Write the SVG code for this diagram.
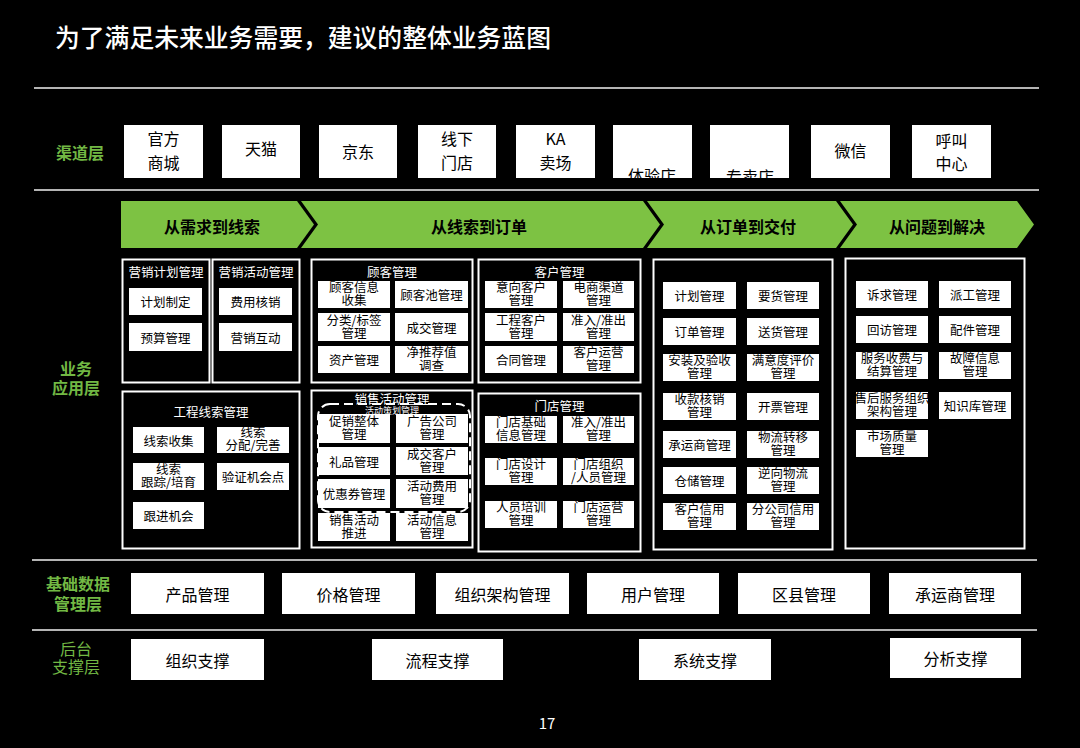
<svg xmlns="http://www.w3.org/2000/svg" width="1080" height="748" viewBox="0 0 1080 748">
<style>
text{font-family:"Noto Sans CJK SC","Noto Sans",sans-serif;text-anchor:middle;dominant-baseline:central}
tspan{dominant-baseline:central}
.bg{fill:#000}
.sep{stroke:#b4b4b4;stroke-width:2}
.ch{fill:#fff}
.t16{font-size:16px;fill:#000}
.t13{font-size:12.5px;fill:#000}
.pn{fill:none;stroke:#fff;stroke-width:2}
.bx{fill:#fff}
.pt{font-size:12.5px;fill:#fff}
.lbl{font-size:16px;font-weight:bold;fill:#72b844}
.arr{fill:#7dc243}
.at{font-size:16px;font-weight:bold;fill:#000}
</style>
<rect class="bg" x="0" y="0" width="1080" height="748"/>
<g id="title"><text x="55" y="36" style="font-size:24.8px;font-weight:500;fill:#fff;text-anchor:start">为了满足未来业务需要，建议的整体业务蓝图</text></g>
<g id="separators">
<line class="sep" x1="34" y1="88" x2="1039" y2="88"/>
<line class="sep" x1="34" y1="190" x2="1039" y2="190"/>
<line class="sep" x1="32" y1="560" x2="1037" y2="560"/>
<line class="sep" x1="32" y1="630" x2="1037" y2="630"/>
</g>
<g id="layer-labels">
<text class="lbl" x="80" y="152">渠道层</text>
<text class="lbl" x="76"><tspan x="76" y="368">业务</tspan><tspan x="76" y="387">应用层</tspan></text>
<text class="lbl" x="78"><tspan x="78" y="583">基础数据</tspan><tspan x="78" y="603">管理层</tspan></text>
<text class="lbl" x="76" style="font-weight:normal"><tspan x="76" y="648">后台</tspan><tspan x="76" y="666">支撑层</tspan></text>
</g>
<g id="channels">
<rect class="ch" x="124" y="125" width="79" height="53"/><text class="t16"><tspan x="163.5" y="138">官方</tspan><tspan x="163.5" y="162">商城</tspan></text>
<rect class="ch" x="222" y="125" width="78" height="53"/><text class="t16" x="261" y="148">天猫</text>
<rect class="ch" x="319" y="125" width="78" height="53"/><text class="t16" x="358" y="151">京东</text>
<rect class="ch" x="418" y="125" width="78" height="53"/><text class="t16"><tspan x="457" y="138">线下</tspan><tspan x="457" y="162">门店</tspan></text>
<rect class="ch" x="516" y="125" width="79" height="53"/><text class="t16"><tspan x="555.5" y="138">KA</tspan><tspan x="555.5" y="162">卖场</tspan></text>
<rect class="ch" x="613" y="125" width="79" height="53"/><text class="t16" x="652" y="175">体验店</text>
<rect class="ch" x="710" y="125" width="79" height="53"/><text class="t16" x="750" y="176">专卖店</text>
<rect class="ch" x="811" y="125" width="79" height="53"/><text class="t16" x="850.5" y="150">微信</text>
<rect class="ch" x="912" y="125" width="79" height="53"/><text class="t16"><tspan x="951.5" y="140">呼叫</tspan><tspan x="951.5" y="163">中心</tspan></text>
</g>
<g id="stages">
<path class="arr" d="M121,201 L297,201 L314,224.5 L297,248 L121,248 Z"/>
<path class="arr" d="M301,201 L643,201 L660,224.5 L643,248 L301,248 L318,224.5 Z"/>
<path class="arr" d="M647,201 L836,201 L853,224.5 L836,248 L647,248 L664,224.5 Z"/>
<path class="arr" d="M840,201 L1017,201 L1034,224.5 L1017,248 L840,248 L857,224.5 Z"/>
<text class="at" x="212" y="226">从需求到线索</text>
<text class="at" x="479" y="226">从线索到订单</text>
<text class="at" x="748" y="226">从订单到交付</text>
<text class="at" x="937" y="226">从问题到解决</text>
</g>
<g id="panel-plan">
<rect class="pn" x="122.5" y="259.5" width="87" height="123"/>
<text class="pt" x="166" y="271">营销计划管理</text>
<rect class="bx" x="129" y="288" width="73" height="27"/><text class="t13" x="165.5" y="301.5">计划制定</text>
<rect class="bx" x="129" y="323" width="73" height="28"/><text class="t13" x="165.5" y="337">预算管理</text>
</g>
<g id="panel-activity">
<rect class="pn" x="212.5" y="259.5" width="87" height="123"/>
<text class="pt" x="256" y="271">营销活动管理</text>
<rect class="bx" x="219" y="288" width="73" height="27"/><text class="t13" x="255.5" y="301.5">费用核销</text>
<rect class="bx" x="219" y="323" width="73" height="28"/><text class="t13" x="255.5" y="337">营销互动</text>
</g>
<g id="panel-leads">
<rect class="pn" x="122.5" y="391.5" width="177" height="157"/>
<text class="pt" x="211" y="411">工程线索管理</text>
<rect class="bx" x="133" y="427" width="71" height="26"/><text class="t13" x="168.5" y="440">线索收集</text>
<rect class="bx" x="217" y="427" width="72" height="26"/><text class="t13"><tspan x="253" y="431">线索</tspan><tspan x="253" y="444">分配/完善</tspan></text>
<rect class="bx" x="133" y="463" width="71" height="27"/><text class="t13"><tspan x="168.5" y="467.5">线索</tspan><tspan x="168.5" y="480.5">跟踪/培育</tspan></text>
<rect class="bx" x="217" y="463" width="72" height="27"/><text class="t13" x="253" y="476.5">验证机会点</text>
<rect class="bx" x="133" y="502" width="71" height="27"/><text class="t13" x="168.5" y="515.5">跟进机会</text>
</g>
<g id="panel-consumer">
<rect class="pn" x="311.5" y="259.5" width="161" height="123"/>
<text class="pt" x="392" y="271">顾客管理</text>
<rect class="bx" x="318" y="281" width="72" height="27"/><text class="t13"><tspan x="354" y="286">顾客信息</tspan><tspan x="354" y="299">收集</tspan></text>
<rect class="bx" x="395" y="281" width="73" height="27"/><text class="t13" x="431.5" y="294.5">顾客池管理</text>
<rect class="bx" x="318" y="313" width="72" height="28"/><text class="t13"><tspan x="354" y="318.5">分类/标签</tspan><tspan x="354" y="331.5">管理</tspan></text>
<rect class="bx" x="395" y="313" width="73" height="28"/><text class="t13" x="431.5" y="327">成交管理</text>
<rect class="bx" x="318" y="346" width="72" height="27"/><text class="t13" x="354" y="359.5">资产管理</text>
<rect class="bx" x="395" y="346" width="73" height="27"/><text class="t13"><tspan x="431.5" y="351">净推荐值</tspan><tspan x="431.5" y="364">调查</tspan></text>
</g>
<g id="panel-customer">
<rect class="pn" x="478.5" y="259.5" width="162" height="123"/>
<text class="pt" x="559.5" y="271">客户管理</text>
<rect class="bx" x="485" y="281" width="72" height="27"/><text class="t13"><tspan x="521" y="286">意向客户</tspan><tspan x="521" y="299">管理</tspan></text>
<rect class="bx" x="563" y="281" width="71" height="27"/><text class="t13"><tspan x="598.5" y="286">电商渠道</tspan><tspan x="598.5" y="299">管理</tspan></text>
<rect class="bx" x="485" y="313" width="72" height="28"/><text class="t13"><tspan x="521" y="318.5">工程客户</tspan><tspan x="521" y="331.5">管理</tspan></text>
<rect class="bx" x="563" y="313" width="71" height="28"/><text class="t13"><tspan x="598.5" y="318.5">准入/准出</tspan><tspan x="598.5" y="331.5">管理</tspan></text>
<rect class="bx" x="485" y="346" width="72" height="27"/><text class="t13" x="521" y="359.5">合同管理</text>
<rect class="bx" x="563" y="346" width="71" height="27"/><text class="t13"><tspan x="598.5" y="351">客户运营</tspan><tspan x="598.5" y="364">管理</tspan></text>
</g>
<g id="panel-sales">
<rect class="pn" x="311.5" y="390.5" width="161" height="157"/>
<rect class="bx" x="318" y="414" width="72" height="29"/><text class="t13"><tspan x="354" y="420">促销整体</tspan><tspan x="354" y="433">管理</tspan></text>
<rect class="bx" x="396" y="414" width="72" height="29"/><text class="t13"><tspan x="432" y="420">广告公司</tspan><tspan x="432" y="433">管理</tspan></text>
<rect class="bx" x="318" y="447" width="72" height="28"/><text class="t13" x="354" y="461">礼品管理</text>
<rect class="bx" x="396" y="447" width="72" height="28"/><text class="t13"><tspan x="432" y="452.5">成交客户</tspan><tspan x="432" y="465.5">管理</tspan></text>
<rect class="bx" x="318" y="479" width="72" height="29"/><text class="t13" x="354" y="493.5">优惠券管理</text>
<rect class="bx" x="396" y="479" width="72" height="29"/><text class="t13"><tspan x="432" y="485">活动费用</tspan><tspan x="432" y="498">管理</tspan></text>
<rect class="bx" x="318" y="513" width="72" height="28"/><text class="t13"><tspan x="354" y="518.5">销售活动</tspan><tspan x="354" y="531.5">推进</tspan></text>
<rect class="bx" x="396" y="513" width="72" height="28"/><text class="t13"><tspan x="432" y="518.5">活动信息</tspan><tspan x="432" y="531.5">管理</tspan></text>
<rect x="318" y="404" width="152" height="108" rx="12" fill="none" stroke="#fff" stroke-width="2" stroke-dasharray="9 5"/>
<text class="pt"><tspan x="392" y="397.5">销售活动管理</tspan><tspan x="392" y="409.5" style="font-size:9px">活动策划管理</tspan></text>
</g>
<g id="panel-store">
<rect class="pn" x="478.5" y="393.5" width="162" height="158"/>
<text class="pt" x="559.5" y="405">门店管理</text>
<rect class="bx" x="485" y="416" width="72" height="27"/><text class="t13"><tspan x="521" y="421">门店基础</tspan><tspan x="521" y="434">信息管理</tspan></text>
<rect class="bx" x="563" y="416" width="71" height="27"/><text class="t13"><tspan x="598.5" y="421">准入/准出</tspan><tspan x="598.5" y="434">管理</tspan></text>
<rect class="bx" x="485" y="458" width="72" height="27"/><text class="t13"><tspan x="521" y="463">门店设计</tspan><tspan x="521" y="476">管理</tspan></text>
<rect class="bx" x="563" y="458" width="71" height="27"/><text class="t13"><tspan x="598.5" y="463">门店组织</tspan><tspan x="598.5" y="476">/人员管理</tspan></text>
<rect class="bx" x="485" y="501" width="72" height="27"/><text class="t13"><tspan x="521" y="506">人员培训</tspan><tspan x="521" y="519">管理</tspan></text>
<rect class="bx" x="563" y="501" width="71" height="27"/><text class="t13"><tspan x="598.5" y="506">门店运营</tspan><tspan x="598.5" y="519">管理</tspan></text>
</g>
<g id="panel-delivery">
<rect class="pn" x="653.5" y="259.5" width="179" height="290"/>
<rect class="bx" x="663" y="282" width="73" height="27"/><text class="t13" x="699.5" y="295.5">计划管理</text>
<rect class="bx" x="747" y="282" width="72" height="27"/><text class="t13" x="783" y="295.5">要货管理</text>
<rect class="bx" x="663" y="318" width="73" height="27"/><text class="t13" x="699.5" y="331.5">订单管理</text>
<rect class="bx" x="747" y="318" width="72" height="27"/><text class="t13" x="783" y="331.5">送货管理</text>
<rect class="bx" x="663" y="354" width="73" height="27"/><text class="t13"><tspan x="699.5" y="359">安装及验收</tspan><tspan x="699.5" y="372">管理</tspan></text>
<rect class="bx" x="747" y="354" width="72" height="27"/><text class="t13"><tspan x="783" y="359">满意度评价</tspan><tspan x="783" y="372">管理</tspan></text>
<rect class="bx" x="663" y="393" width="73" height="27"/><text class="t13"><tspan x="699.5" y="398">收款核销</tspan><tspan x="699.5" y="411">管理</tspan></text>
<rect class="bx" x="747" y="393" width="72" height="27"/><text class="t13" x="783" y="406.5">开票管理</text>
<rect class="bx" x="663" y="431" width="73" height="27"/><text class="t13" x="699.5" y="444.5">承运商管理</text>
<rect class="bx" x="747" y="431" width="72" height="27"/><text class="t13"><tspan x="783" y="436">物流转移</tspan><tspan x="783" y="449">管理</tspan></text>
<rect class="bx" x="663" y="467" width="73" height="27"/><text class="t13" x="699.5" y="480.5">仓储管理</text>
<rect class="bx" x="747" y="467" width="72" height="27"/><text class="t13"><tspan x="783" y="472">逆向物流</tspan><tspan x="783" y="485">管理</tspan></text>
<rect class="bx" x="663" y="503" width="73" height="27"/><text class="t13"><tspan x="699.5" y="508">客户信用</tspan><tspan x="699.5" y="521">管理</tspan></text>
<rect class="bx" x="747" y="503" width="72" height="27"/><text class="t13"><tspan x="783" y="508">分公司信用</tspan><tspan x="783" y="521">管理</tspan></text>
</g>
<g id="panel-service">
<rect class="pn" x="845.5" y="258.5" width="179" height="290"/>
<rect class="bx" x="856" y="281" width="72" height="27"/><text class="t13" x="892" y="294.5">诉求管理</text>
<rect class="bx" x="939" y="281" width="72" height="27"/><text class="t13" x="975" y="294.5">派工管理</text>
<rect class="bx" x="856" y="316" width="72" height="27"/><text class="t13" x="892" y="329.5">回访管理</text>
<rect class="bx" x="939" y="316" width="72" height="27"/><text class="t13" x="975" y="329.5">配件管理</text>
<rect class="bx" x="856" y="352" width="72" height="27"/><text class="t13"><tspan x="892" y="357">服务收费与</tspan><tspan x="892" y="370">结算管理</tspan></text>
<rect class="bx" x="939" y="352" width="72" height="27"/><text class="t13"><tspan x="975" y="357">故障信息</tspan><tspan x="975" y="370">管理</tspan></text>
<rect class="bx" x="856" y="392" width="72" height="27"/><text class="t13"><tspan x="892" y="397">售后服务组织</tspan><tspan x="892" y="410">架构管理</tspan></text>
<rect class="bx" x="939" y="392" width="72" height="27"/><text class="t13" x="975" y="405.5">知识库管理</text>
<rect class="bx" x="856" y="430" width="72" height="27"/><text class="t13"><tspan x="892" y="435">市场质量</tspan><tspan x="892" y="448">管理</tspan></text>
</g>
<g id="base-data">
<rect class="ch" x="131" y="573" width="133" height="41"/><text class="t16" x="197.5" y="594">产品管理</text>
<rect class="ch" x="282" y="573" width="133" height="41"/><text class="t16" x="348.5" y="594">价格管理</text>
<rect class="ch" x="436" y="573" width="133" height="41"/><text class="t16" x="502.5" y="594">组织架构管理</text>
<rect class="ch" x="587" y="573" width="132" height="41"/><text class="t16" x="653" y="594">用户管理</text>
<rect class="ch" x="738" y="573" width="132" height="41"/><text class="t16" x="804" y="594">区县管理</text>
<rect class="ch" x="889" y="573" width="132" height="41"/><text class="t16" x="955" y="594">承运商管理</text>
</g>
<g id="backend">
<rect class="ch" x="131" y="639" width="133" height="41"/><text class="t16" x="197.5" y="660">组织支撑</text>
<rect class="ch" x="372" y="639" width="131" height="41"/><text class="t16" x="437.5" y="660">流程支撑</text>
<rect class="ch" x="639" y="639" width="132" height="41"/><text class="t16" x="705" y="660">系统支撑</text>
<rect class="ch" x="890" y="638" width="131" height="40"/><text class="t16" x="955.5" y="658">分析支撑</text>
</g>
<g id="page"><text x="547" y="722" style="font-size:15px;fill:#fff">17</text></g>
<g id="connectors"></g>
</svg>
